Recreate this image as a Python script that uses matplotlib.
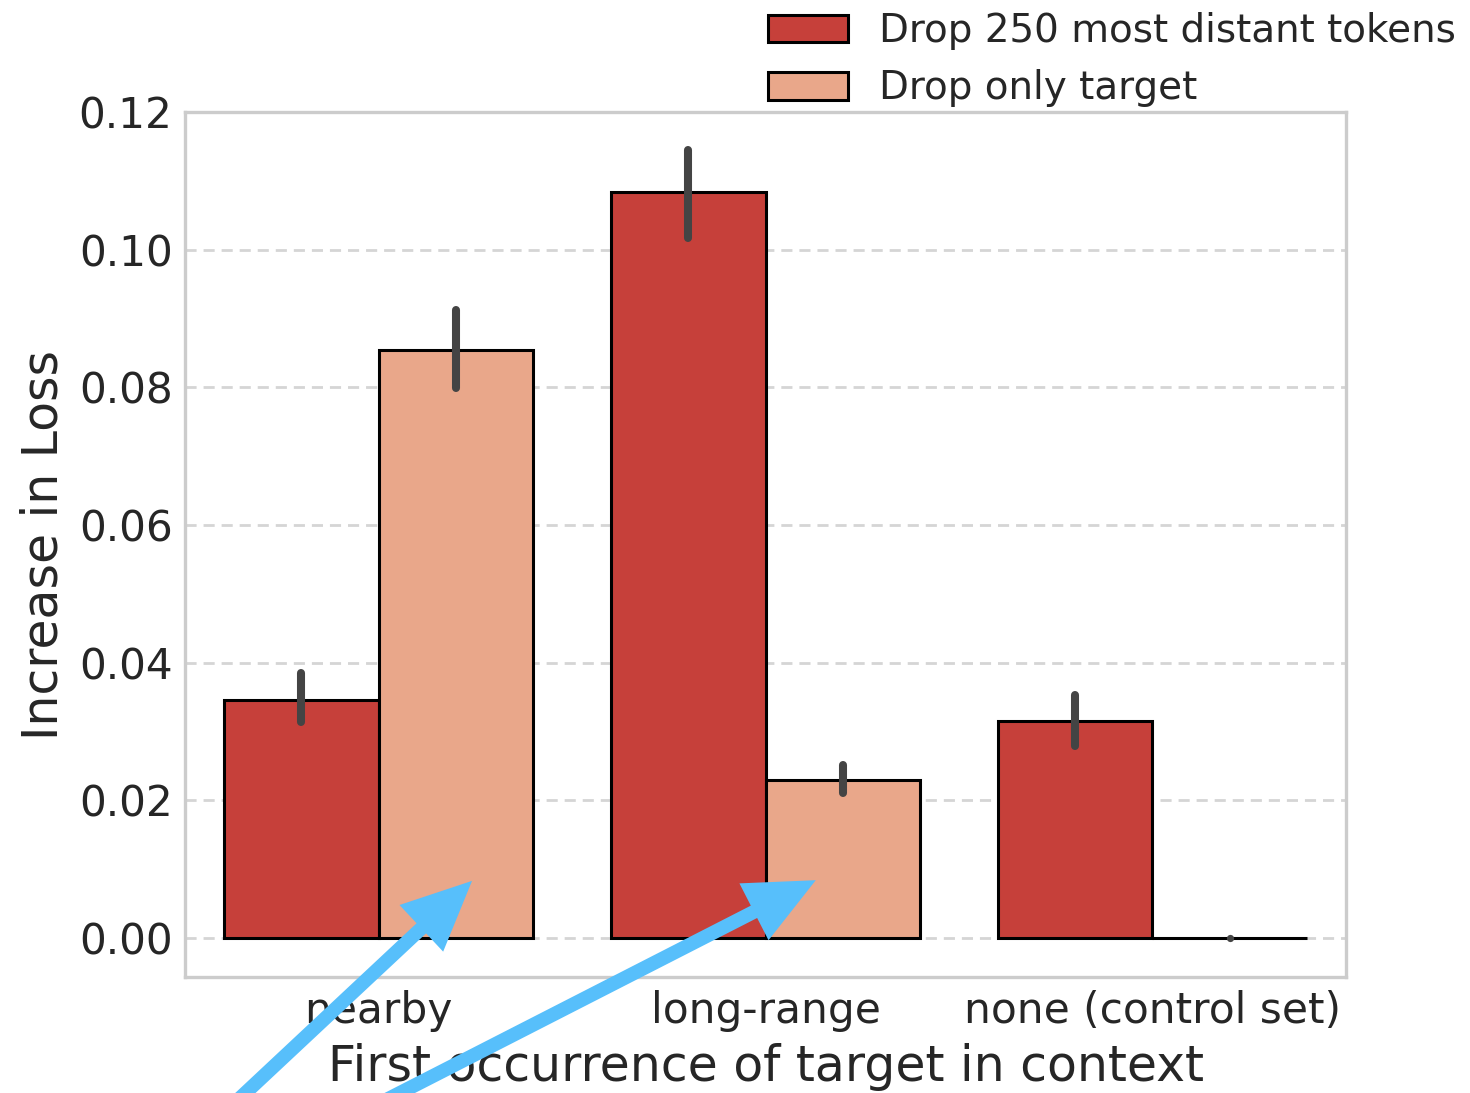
import matplotlib
matplotlib.use("Agg")
import matplotlib.pyplot as plt
import numpy as np

# Mean increase in loss per condition, with 95% CI bounds
categories = ["nearby", "long-range", "none (control set)"]
series_names = ["Drop 250 most distant tokens", "Drop only target"]
drop_distant = [0.0346, 0.1084, 0.0315]
drop_distant_lo = [0.0314, 0.1017, 0.0279]
drop_distant_hi = [0.0385, 0.1145, 0.0353]
drop_target = [0.0854, 0.0230, 0.0]
drop_target_lo = [0.0799, 0.0211, 0.0]
drop_target_hi = [0.0912, 0.0251, 0.0]
yticks = [0.00, 0.02, 0.04, 0.06, 0.08, 0.10, 0.12]

colors = ["#C6403A", "#E9A78A"]
text_color = "#262626"
arrow_color = "#57BFFB"

plt.rcParams["font.family"] = ["DejaVu Sans"]

fig = plt.figure(figsize=(7.35, 5.465), dpi=200)
ax = fig.add_axes([0.1259, 0.1061, 0.7897, 0.7914])

x = np.arange(len(categories))
width = 0.4
series = [
    (drop_distant, drop_distant_lo, drop_distant_hi),
    (drop_target, drop_target_lo, drop_target_hi),
]
for i, (vals, lo, hi) in enumerate(series):
    pos = x - width / 2 + i * width
    ax.bar(pos, vals, width=width, color=colors[i], edgecolor="black",
           linewidth=1.1, label=series_names[i], zorder=2)
    for p, l, h in zip(pos, lo, hi):
        if h > l:
            ax.plot([p, p], [l, h], color="#444444", lw=2.9,
                    solid_capstyle="round", zorder=3)
        else:
            ax.plot([p], [l], marker="o", ms=2.6, color="#444444",
                    mew=0, zorder=3)

ax.set_xlim(-0.5, 2.5)
ax.set_ylim(-0.00567, 0.12)
ax.set_xticks(x)
ax.set_xticklabels(categories)
ax.set_yticks(yticks)
ax.set_yticklabels([f"{v:.2f}" for v in yticks])
ax.tick_params(axis="both", labelsize=15.2, colors=text_color, length=0, pad=4.5)

ax.yaxis.grid(True, linestyle=(0, (4, 2.5)), color="#d5d5d5", lw=1.0, zorder=0)
ax.set_axisbelow(True)
for s in ax.spines.values():
    s.set_color("#cccccc")
    s.set_linewidth(1.2)

ax.set_ylabel("Increase in Loss", fontsize=17.6, color=text_color, labelpad=4)
ax.set_xlabel("First occurrence of target in context", fontsize=17.6,
              color=text_color, labelpad=4)

fig.legend(loc="upper left", bbox_to_anchor=(0.5224, 0.989), frameon=False,
           fontsize=14, handlelength=2.05, handleheight=0.72,
           handletextpad=0.8, labelspacing=0.5, borderpad=0,
           borderaxespad=0, labelcolor=text_color)

# Highlight arrows pointing at the "drop only target" bars
arrow_tips = [(0.2416, 0.0083), (1.130, 0.0084)]
arrow_tails = [(222 / 1470, -0.02), (357 / 1470, -0.02)]
for tip, tail in zip(arrow_tips, arrow_tails):
    ax.annotate("", xy=tip, xycoords="data", xytext=tail,
                textcoords="figure fraction", annotation_clip=False,
                arrowprops=dict(arrowstyle="simple,head_length=1.25,head_width=1.15,tail_width=0.25",
                                mutation_scale=20, color=arrow_color, lw=0,
                                shrinkA=0, shrinkB=0), zorder=10)

fig.savefig("out.png", dpi=200, facecolor="white")
